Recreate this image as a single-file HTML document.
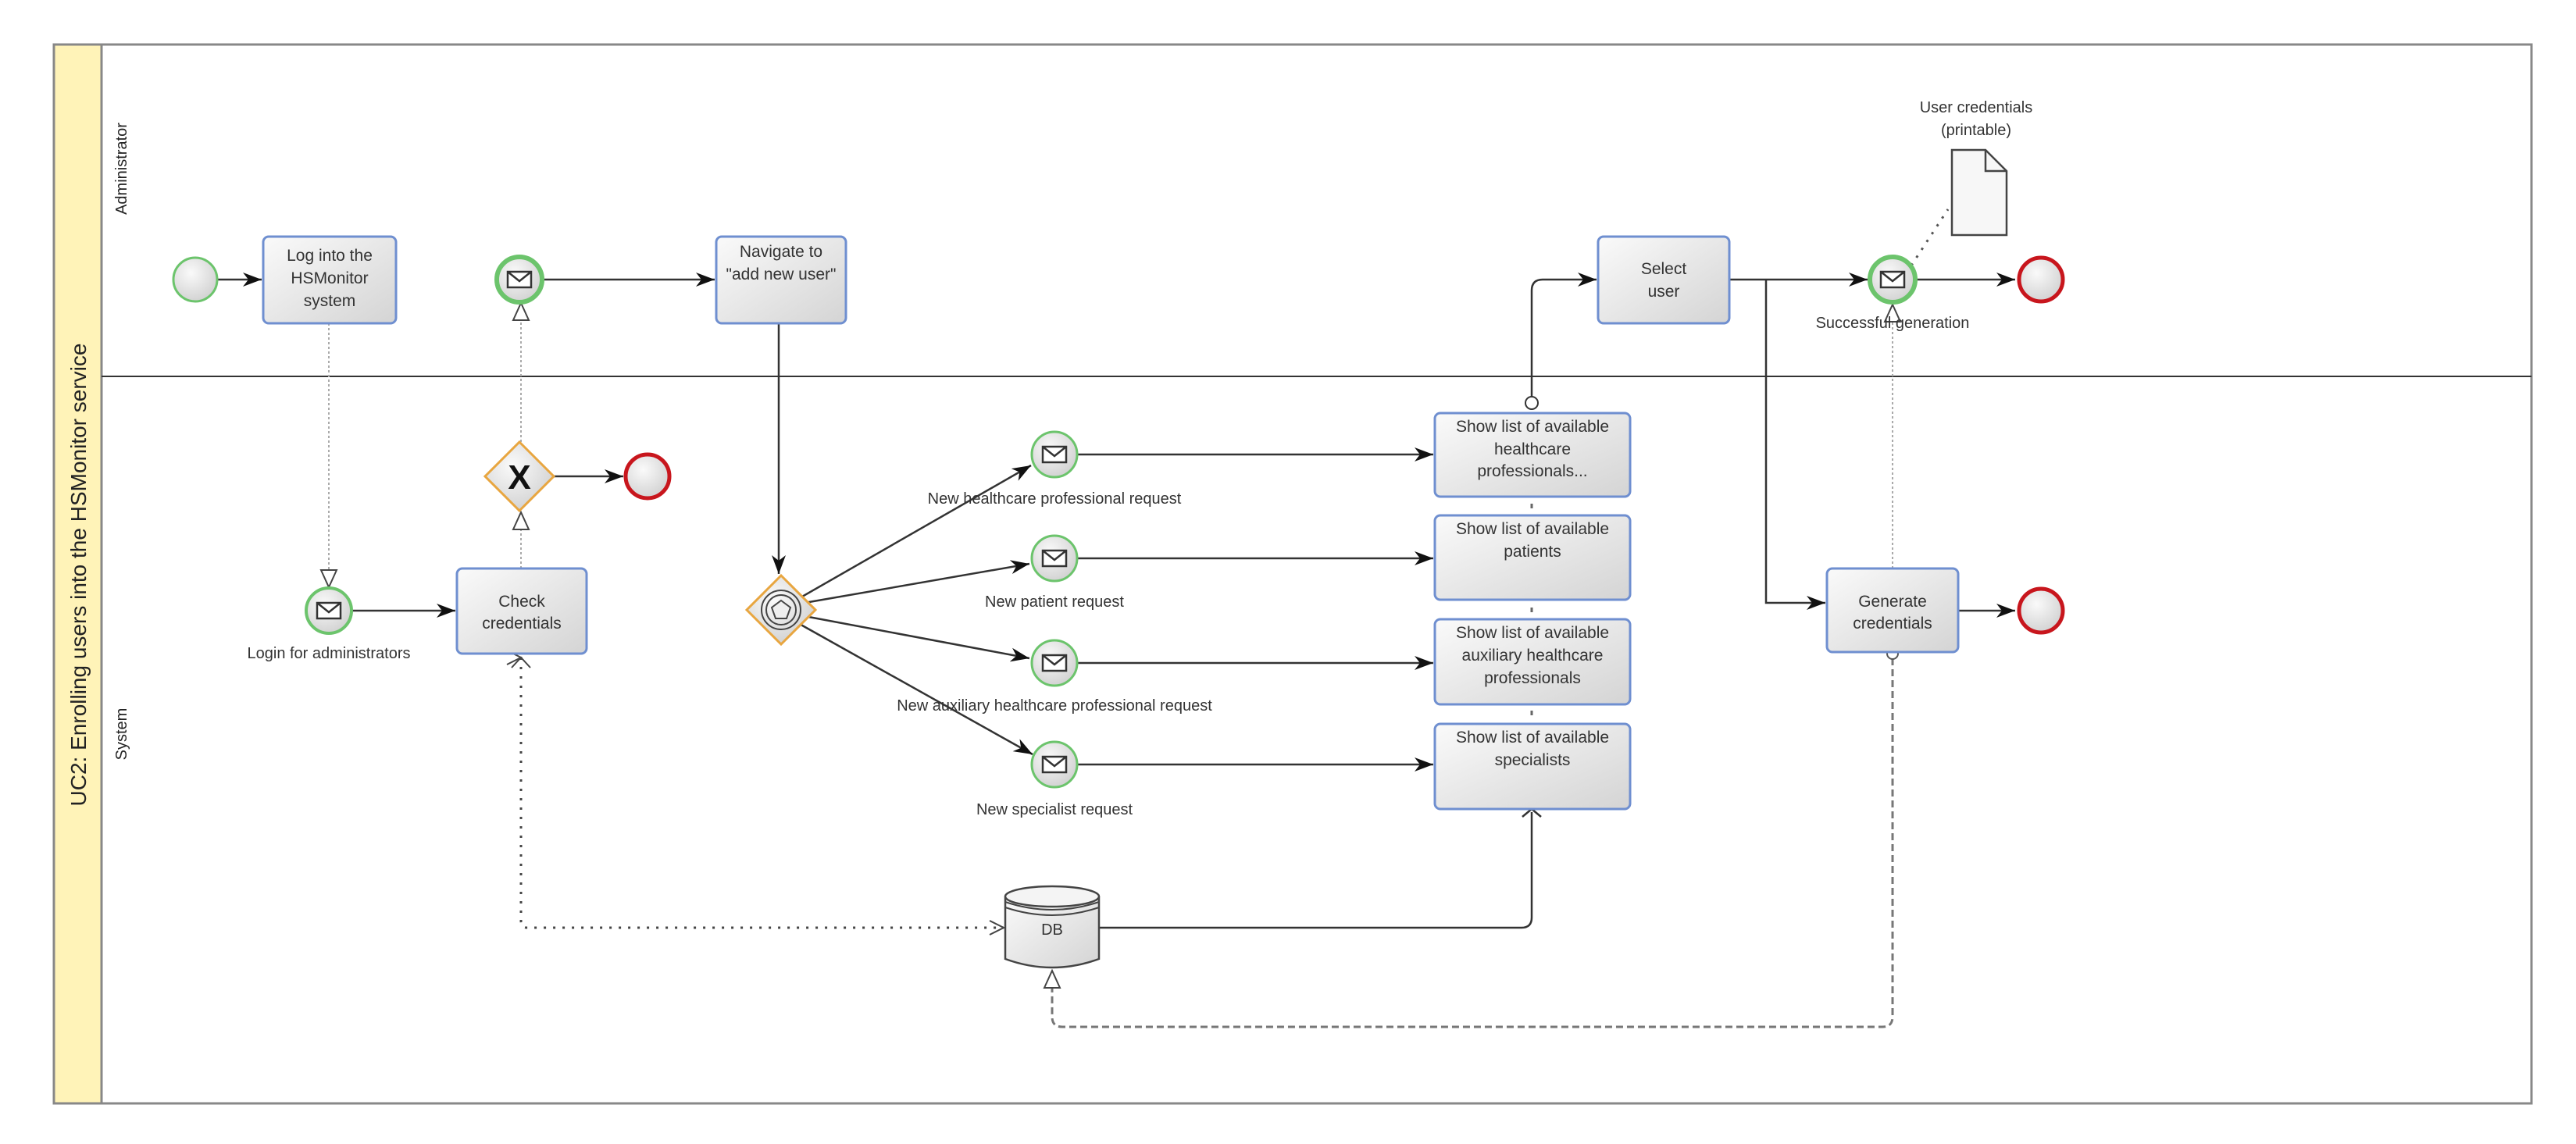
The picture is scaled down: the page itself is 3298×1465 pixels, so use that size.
<!DOCTYPE html>
<html><head><meta charset="utf-8"><style>html,body{margin:0;padding:0;background:#fff}svg{display:block}</style></head>
<body>
<svg width="3298" height="1465" viewBox="0 0 3298 1465" xmlns="http://www.w3.org/2000/svg" font-family="Liberation Sans, sans-serif">
<defs>
<linearGradient id="bg" x1="0" y1="0" x2="1" y2="1"><stop offset="0" stop-color="#fafafa"/><stop offset="1" stop-color="#d4d4d4"/></linearGradient>
<radialGradient id="eg" cx="0.4" cy="0.35" r="0.7"><stop offset="0" stop-color="#fafafa"/><stop offset="1" stop-color="#d0d0d0"/></radialGradient>
<marker id="ar" markerWidth="12" markerHeight="10" refX="11" refY="5" orient="auto" markerUnits="userSpaceOnUse" viewBox="0 0 12 10"><path d="M0,0 L12,5 L0,10 L4,5 Z" fill="#111"/></marker>
<marker id="ar2" markerWidth="26" markerHeight="20" refX="24" refY="10" orient="auto" markerUnits="userSpaceOnUse"><path d="M0,1 L24,10 L0,19 L7,10 Z" fill="#111"/></marker>
<marker id="ot" markerWidth="26" markerHeight="26" refX="24" refY="12" orient="auto" markerUnits="userSpaceOnUse"><path d="M2,2 L24,12 L2,22 Z" fill="#fff" stroke="#444" stroke-width="2"/></marker>
<marker id="oc" markerWidth="20" markerHeight="20" refX="10" refY="10" orient="auto" markerUnits="userSpaceOnUse"><circle cx="10" cy="10" r="7" fill="#fff" stroke="#444" stroke-width="2"/></marker>
<marker id="oa" markerWidth="24" markerHeight="24" refX="22" refY="12" orient="auto" markerUnits="userSpaceOnUse"><path d="M4,3 L22,12 L4,21" fill="none" stroke="#444" stroke-width="2"/></marker>
<g id="env"><rect x="-15" y="-10" width="30" height="20" fill="#fff" stroke="#333" stroke-width="2.5"/><path d="M-15,-10 L0,2 L15,-10" fill="none" stroke="#333" stroke-width="2.5"/></g>
</defs>

<!-- pool -->
<rect x="69" y="57" width="3172" height="1356" fill="#fff" stroke="#888" stroke-width="3"/>
<rect x="69" y="57" width="61" height="1356" fill="#fff3b8" stroke="#888" stroke-width="3"/>
<line x1="130" y1="482" x2="3241" y2="482" stroke="#333" stroke-width="2"/>
<text transform="translate(110,736) rotate(-90)" text-anchor="middle" font-size="28" fill="#222">UC2: Enrolling users into the HSMonitor service</text>
<text transform="translate(162,216) rotate(-90)" text-anchor="middle" font-size="20" fill="#222">Administrator</text>
<text transform="translate(162,940) rotate(-90)" text-anchor="middle" font-size="20" fill="#222">System</text>

<!-- sequence flows -->
<g stroke="#333" stroke-width="2.5" fill="none">
<line x1="278" y1="358" x2="335" y2="358" marker-end="url(#ar2)"/>
<line x1="695" y1="358" x2="915" y2="358" marker-end="url(#ar2)"/>
<line x1="997" y1="414" x2="997" y2="735" marker-end="url(#ar2)"/>
<line x1="709" y1="610" x2="798" y2="610" marker-end="url(#ar2)"/>
<line x1="451" y1="782" x2="583" y2="782" marker-end="url(#ar2)"/>
<line x1="1020" y1="768" x2="1320" y2="596" marker-end="url(#ar2)"/>
<line x1="1030" y1="772" x2="1318" y2="722" marker-end="url(#ar2)"/>
<line x1="1030" y1="789" x2="1318" y2="843" marker-end="url(#ar2)"/>
<line x1="1020" y1="797" x2="1322" y2="966" marker-end="url(#ar2)"/>
<line x1="1379" y1="582" x2="1835" y2="582" marker-end="url(#ar2)"/>
<line x1="1379" y1="715" x2="1835" y2="715" marker-end="url(#ar2)"/>
<line x1="1379" y1="849" x2="1835" y2="849" marker-end="url(#ar2)"/>
<line x1="1379" y1="979" x2="1835" y2="979" marker-end="url(#ar2)"/>
<path d="M1961,518 L1961,372 Q1961,358 1975,358 L2044,358" marker-end="url(#ar2)"/>
<circle cx="1961" cy="516" r="8" fill="#fff" stroke="#333" stroke-width="2"/>
<path d="M1407,1188 L1948,1188 Q1961,1188 1961,1175 L1961,1040"/>
<path d="M1949,1046 L1961,1036 L1973,1046" />
<path d="M2214,358 L2391,358" marker-end="url(#ar2)"/>
<path d="M2261,358 L2261,772 L2337,772" marker-end="url(#ar2)"/>
<line x1="2453" y1="358" x2="2580" y2="358" marker-end="url(#ar2)"/>
<line x1="2507" y1="782" x2="2580" y2="782" marker-end="url(#ar2)"/>
</g>
<!-- message flows / associations -->
<g fill="none">
<line x1="421" y1="414" x2="421" y2="752" stroke="#aaa" stroke-width="2" stroke-dasharray="3,3" marker-end="url(#ot)"/>
<line x1="667" y1="728" x2="667" y2="656" stroke="#aaa" stroke-width="2" stroke-dasharray="3,3" marker-end="url(#ot)"/>
<line x1="667" y1="566" x2="667" y2="388" stroke="#aaa" stroke-width="2" stroke-dasharray="3,3" marker-end="url(#ot)"/>
<line x1="2423" y1="728" x2="2423" y2="390" stroke="#aaa" stroke-width="2" stroke-dasharray="3,3" marker-end="url(#ot)"/>
<path d="M667,842 L667,1180 Q667,1188 675,1188 L1285,1188" stroke="#444" stroke-width="3" stroke-dasharray="3,9" marker-end="url(#oa)"/>
<path d="M667,842 L667,842" marker-start="url(#oa)"/>
<path d="M655,855 L667,842 L679,855" stroke="#444" stroke-width="2"/>
<path d="M2423,843 L2423,1302 Q2423,1315 2410,1315 L1360,1315 Q1347,1315 1347,1302 L1347,1243" stroke="#777" stroke-width="3" stroke-dasharray="9,5" marker-end="url(#ot)"/>
<circle cx="2423" cy="837" r="7" fill="#fff" stroke="#555" stroke-width="2"/>
<line x1="2447" y1="340" x2="2494" y2="268" stroke="#555" stroke-width="3" stroke-dasharray="3,9"/>
<line x1="1961" y1="645" x2="1961" y2="651" stroke="#666" stroke-width="3"/>
<line x1="1961" y1="778" x2="1961" y2="784" stroke="#666" stroke-width="3"/>
<line x1="1961" y1="910" x2="1961" y2="916" stroke="#666" stroke-width="3"/>
</g>

<!-- tasks -->
<g stroke="#6f8fd0" stroke-width="3" fill="url(#bg)">
<rect x="337" y="303" width="170" height="111" rx="7"/>
<rect x="917" y="303" width="166" height="111" rx="7"/>
<rect x="585" y="728" width="166" height="109" rx="7"/>
<rect x="1837" y="529" width="250" height="107" rx="7"/>
<rect x="1837" y="660" width="250" height="108" rx="7"/>
<rect x="1837" y="793" width="250" height="109" rx="7"/>
<rect x="1837" y="927" width="250" height="109" rx="7"/>
<rect x="2046" y="303" width="168" height="111" rx="7"/>
<rect x="2339" y="728" width="168" height="107" rx="7"/>
</g>
<g font-size="21" fill="#333" text-anchor="middle">
<text x="422" y="334">Log into the</text><text x="422" y="363">HSMonitor</text><text x="422" y="392">system</text>
<text x="1000" y="329">Navigate to</text><text x="1000" y="358">"add new user"</text>
<text x="668" y="777">Check</text><text x="668" y="805">credentials</text>
<text x="1962" y="553">Show list of available</text><text x="1962" y="582">healthcare</text><text x="1962" y="610">professionals...</text>
<text x="1962" y="684">Show list of available</text><text x="1962" y="713">patients</text>
<text x="1962" y="817">Show list of available</text><text x="1962" y="846">auxiliary healthcare</text><text x="1962" y="875">professionals</text>
<text x="1962" y="951">Show list of available</text><text x="1962" y="980">specialists</text>
<text x="2130" y="351">Select</text><text x="2130" y="380">user</text>
<text x="2423" y="777">Generate</text><text x="2423" y="805">credentials</text>
</g>

<!-- events -->
<g stroke-width="5" fill="url(#eg)">
<circle cx="250" cy="358" r="28" stroke="#6cc46c" stroke-width="3"/>
<circle cx="665" cy="358" r="29" stroke="#6cc46c" stroke-width="6"/>
<circle cx="421" cy="782" r="29" stroke="#6cc46c" stroke-width="4"/>
<circle cx="1350" cy="582" r="29" stroke="#6cc46c" stroke-width="3"/>
<circle cx="1350" cy="715" r="29" stroke="#6cc46c" stroke-width="3"/>
<circle cx="1350" cy="849" r="29" stroke="#6cc46c" stroke-width="3"/>
<circle cx="1350" cy="979" r="29" stroke="#6cc46c" stroke-width="3"/>
<circle cx="2423" cy="358" r="29" stroke="#6cc46c" stroke-width="6"/>
<circle cx="829" cy="610" r="28" stroke="#c8161d" stroke-width="5"/>
<circle cx="2613" cy="358" r="28" stroke="#c8161d" stroke-width="5"/>
<circle cx="2613" cy="782" r="28" stroke="#c8161d" stroke-width="5"/>
</g>
<use href="#env" x="665" y="358"/><use href="#env" x="421" y="782"/>
<use href="#env" x="1350" y="582"/><use href="#env" x="1350" y="715"/><use href="#env" x="1350" y="849"/><use href="#env" x="1350" y="979"/>
<use href="#env" x="2423" y="358"/>

<!-- gateways -->
<path d="M665,566 L709,610 L665,654 L621,610 Z" fill="url(#eg)" stroke="#e8a640" stroke-width="3"/>
<text x="665" y="626" text-anchor="middle" font-size="44" font-weight="bold" fill="#111">X</text>
<path d="M1000,737 L1044,781 L1000,825 L956,781 Z" fill="url(#eg)" stroke="#e8a640" stroke-width="3"/>
<circle cx="1000" cy="781" r="25" fill="none" stroke="#444" stroke-width="2"/>
<circle cx="1000" cy="781" r="19" fill="none" stroke="#444" stroke-width="2"/>
<path d="M1000,769 L1012,778 L1007,792 L993,792 L988,778 Z" fill="#eee" stroke="#444" stroke-width="2"/>

<!-- data store -->
<path d="M1287,1148 L1287,1228 Q1347,1250 1407,1228 L1407,1148" fill="url(#bg)" stroke="#444" stroke-width="2.5"/>
<ellipse cx="1347" cy="1148" rx="60" ry="13" fill="#f4f4f4" stroke="#444" stroke-width="2.5"/>
<path d="M1287,1155 Q1347,1175 1407,1155 M1287,1162 Q1347,1182 1407,1162" fill="none" stroke="#444" stroke-width="2"/>
<text x="1347" y="1197" text-anchor="middle" font-size="20" fill="#333">DB</text>

<!-- document -->
<path d="M2499,192 L2542,192 L2569,219 L2569,301 L2499,301 Z" fill="#f7f7f7" stroke="#444" stroke-width="2.5"/>
<path d="M2542,192 L2542,219 L2569,219" fill="none" stroke="#444" stroke-width="2.5"/>

<!-- labels -->
<g font-size="20" fill="#333" text-anchor="middle">
<text x="421" y="843">Login for administrators</text>
<text x="1350" y="645">New healthcare professional request</text>
<text x="1350" y="777">New patient request</text>
<text x="1350" y="910">New auxiliary healthcare professional request</text>
<text x="1350" y="1043">New specialist request</text>
<text x="2423" y="420">Successful generation</text>
<text x="2530" y="144">User credentials</text>
<text x="2530" y="173">(printable)</text>
</g>
</svg>
</body></html>
